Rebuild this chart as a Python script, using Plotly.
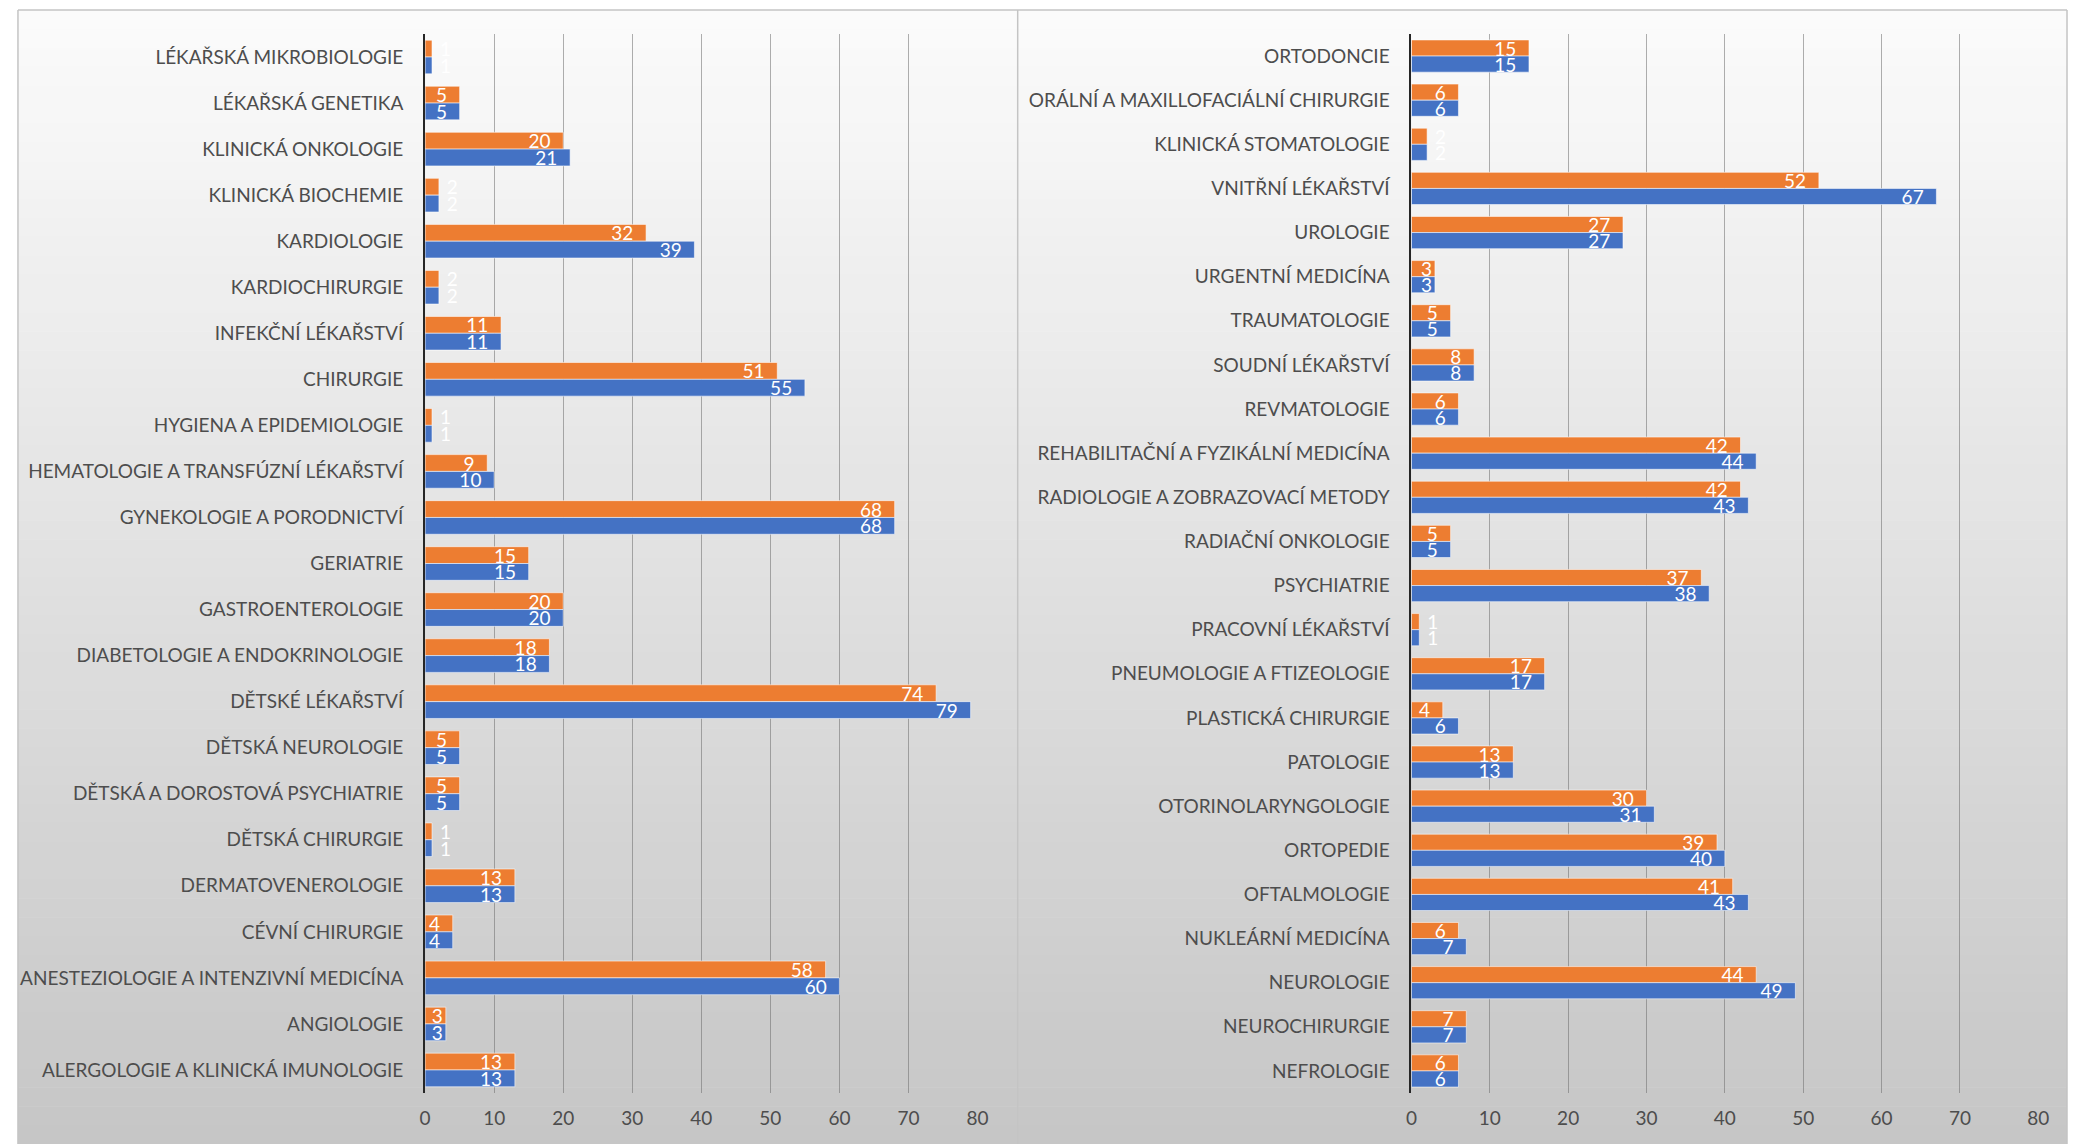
import plotly.graph_objects as go

# ---------------- data ----------------
left_categories = [
    "LÉKAŘSKÁ MIKROBIOLOGIE", "LÉKAŘSKÁ GENETIKA", "KLINICKÁ ONKOLOGIE", "KLINICKÁ BIOCHEMIE",
    "KARDIOLOGIE", "KARDIOCHIRURGIE", "INFEKČNÍ LÉKAŘSTVÍ", "CHIRURGIE",
    "HYGIENA A EPIDEMIOLOGIE", "HEMATOLOGIE A TRANSFÚZNÍ LÉKAŘSTVÍ", "GYNEKOLOGIE A PORODNICTVÍ",
    "GERIATRIE", "GASTROENTEROLOGIE", "DIABETOLOGIE A ENDOKRINOLOGIE", "DĚTSKÉ LÉKAŘSTVÍ",
    "DĚTSKÁ NEUROLOGIE", "DĚTSKÁ A DOROSTOVÁ PSYCHIATRIE", "DĚTSKÁ CHIRURGIE",
    "DERMATOVENEROLOGIE", "CÉVNÍ CHIRURGIE", "ANESTEZIOLOGIE A INTENZIVNÍ MEDICÍNA",
    "ANGIOLOGIE", "ALERGOLOGIE A KLINICKÁ IMUNOLOGIE",
]
left_orange = [1, 5, 20, 2, 32, 2, 11, 51, 1, 9, 68, 15, 20, 18, 74, 5, 5, 1, 13, 4, 58, 3, 13]
left_blue = [1, 5, 21, 2, 39, 2, 11, 55, 1, 10, 68, 15, 20, 18, 79, 5, 5, 1, 13, 4, 60, 3, 13]

right_categories = [
    "ORTODONCIE", "ORÁLNÍ A MAXILLOFACIÁLNÍ CHIRURGIE", "KLINICKÁ STOMATOLOGIE",
    "VNITŘNÍ LÉKAŘSTVÍ", "UROLOGIE", "URGENTNÍ MEDICÍNA", "TRAUMATOLOGIE",
    "SOUDNÍ LÉKAŘSTVÍ", "REVMATOLOGIE", "REHABILITAČNÍ A FYZIKÁLNÍ MEDICÍNA",
    "RADIOLOGIE A ZOBRAZOVACÍ METODY", "RADIAČNÍ ONKOLOGIE", "PSYCHIATRIE",
    "PRACOVNÍ LÉKAŘSTVÍ", "PNEUMOLOGIE A FTIZEOLOGIE", "PLASTICKÁ CHIRURGIE",
    "PATOLOGIE", "OTORINOLARYNGOLOGIE", "ORTOPEDIE", "OFTALMOLOGIE",
    "NUKLEÁRNÍ MEDICÍNA", "NEUROLOGIE", "NEUROCHIRURGIE", "NEFROLOGIE",
]
right_orange = [15, 6, 2, 52, 27, 3, 5, 8, 6, 42, 42, 5, 37, 1, 17, 4, 13, 30, 39, 41, 6, 44, 7, 6]
right_blue = [15, 6, 2, 67, 27, 3, 5, 8, 6, 44, 43, 5, 38, 1, 17, 6, 13, 31, 40, 43, 7, 49, 7, 6]

tick_values = [0, 10, 20, 30, 40, 50, 60, 70, 80]

# ---------------- style ----------------
FONT = "Lato"
ORANGE = "#ED7D31"
BLUE = "#4472C4"
TEXT_GRAY = "#4d4d4d"
NBSP = "\u00a0"

# the page body has an 8px margin; figure is sized so it ends at the window edge
PAGE_OFF = 8
W, H = 2080 - PAGE_OFF, 1144 - PAGE_OFF


def px_x(p):
    return (p - PAGE_OFF) / W


def px_y(p):
    return 1 - (p - PAGE_OFF) / H


def label_texts(vals):
    out = []
    for v in vals:
        if v <= 2:
            out.append(NBSP + str(v))
        elif v == 3:
            out.append(str(v))
        else:
            out.append(str(v) + NBSP + NBSP)
    return out


def label_positions(vals):
    return ["outside" if v <= 2 else "inside" for v in vals]


def bar(cats, vals, color, xa, ya):
    return go.Bar(
        y=cats, x=vals, orientation="h",
        marker=dict(color=color, line=dict(color="rgba(255,255,255,0.55)", width=1)),
        text=label_texts(vals), textposition=label_positions(vals), textangle=0,
        insidetextanchor="end", constraintext="none", cliponaxis=False,
        insidetextfont=dict(color="white", size=19, family=FONT),
        outsidetextfont=dict(color="white", size=19, family=FONT),
        xaxis=xa, yaxis=ya, showlegend=False, hoverinfo="x+y",
    )


fig = go.Figure()
fig.add_trace(bar(left_categories, left_orange, ORANGE, "x", "y"))
fig.add_trace(bar(left_categories, left_blue, BLUE, "x", "y"))
fig.add_trace(bar(right_categories, right_orange, ORANGE, "x2", "y2"))
fig.add_trace(bar(right_categories, right_blue, BLUE, "x2", "y2"))

ydom = [px_y(1093), px_y(34)]

xaxis_common = dict(
    range=[0, 80], tickvals=tick_values, showgrid=True,
    gridcolor="rgba(110,110,110,0.55)", gridwidth=1, zeroline=False, showline=False,
    tickfont=dict(family=FONT, size=19, color=TEXT_GRAY), ticks="", ticklabelstandoff=12,
    fixedrange=True,
)
yaxis_common = dict(
    autorange="reversed", showgrid=False, zeroline=False, showline=True,
    linecolor="#262626", linewidth=2, ticks="", ticklabelstandoff=16,
    tickfont=dict(family=FONT, size=19, color=TEXT_GRAY), domain=ydom,
)

fig.update_layout(
    width=W, height=H,
    margin=dict(l=0, r=0, t=0, b=0),
    paper_bgcolor="white", plot_bgcolor="rgba(0,0,0,0)",
    barmode="group", bargap=0.27, bargroupgap=0,
    xaxis=dict(domain=[px_x(422.5), px_x(979.5)], anchor="y", **xaxis_common),
    yaxis=dict(anchor="x", **yaxis_common),
    xaxis2=dict(domain=[px_x(1417), px_x(2049)], anchor="y2", **xaxis_common),
    yaxis2=dict(anchor="x2", **yaxis_common),
)

# background panels with a soft vertical gradient (decoration only)
shapes = []
top_px, bot_px = 10, 1144
n_bands = 60
c_top, c_bot = (251, 251, 251), (198, 198, 198)
for i in range(n_bands):
    t = i / (n_bands - 1)
    c = tuple(int(round(a + (b - a) * t)) for a, b in zip(c_top, c_bot))
    y0 = top_px + (bot_px - top_px) * i / n_bands
    y1 = top_px + (bot_px - top_px) * (i + 1) / n_bands
    shapes.append(dict(
        type="rect", xref="paper", yref="paper", layer="below",
        x0=px_x(12), x1=px_x(2078), y0=px_y(y1) - 0.0005, y1=px_y(y0),
        fillcolor=f"rgb({c[0]},{c[1]},{c[2]})", line=dict(width=0),
    ))
# panel borders
border = dict(color="#c4c4c4", width=1.5)
shapes.append(dict(type="line", xref="paper", yref="paper", layer="below",
                   x0=px_x(12), x1=px_x(2078), y0=px_y(top_px), y1=px_y(top_px), line=border))
for xpx in (12, 1020, 2078):
    shapes.append(dict(type="line", xref="paper", yref="paper", layer="below",
                       x0=px_x(xpx), x1=px_x(xpx), y0=0, y1=px_y(top_px), line=border))
fig.update_layout(shapes=shapes)

fig.write_html("out.html")
